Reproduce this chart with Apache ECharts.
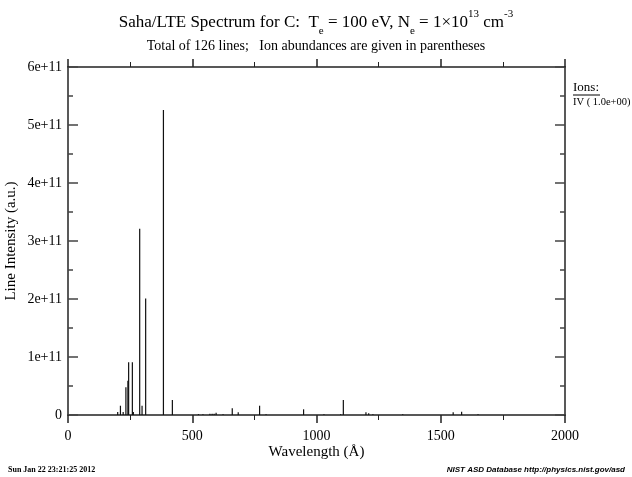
<!DOCTYPE html>
<html>
<head>
<meta charset="utf-8">
<script src="https://cdn.jsdelivr.net/npm/echarts@6/dist/echarts.min.js"></script>
<style>html,body{margin:0;padding:0;background:#fff}#c{width:632px;height:477px}</style>
</head>
<body>
<div id="c"></div>
<script>
// Wavelengths (Å) of the C IV lines
var wavelengths = [200, 211, 222, 233, 241, 244, 259, 263, 288.5, 298, 312.5, 384, 420,
  525, 543, 571, 580, 588, 596, 624, 661, 685, 771, 797, 948, 1030, 1097, 1108,
  1199, 1210, 1227, 1347, 1550, 1584, 1650];
// Line intensities (a.u.)
var intensities = [5e9, 1.6e10, 5e9, 4.8e10, 5.9e10, 9.1e10, 9.1e10, 5e9, 3.21e11, 1.6e10, 2.01e11, 5.26e11, 2.6e10,
  1.5e9, 1.5e9, 2e9, 2e9, 2e9, 4e9, 1.5e9, 1.15e10, 4.6e9, 1.6e10, 1.5e9, 9.8e9, 1.5e9, 1.5e9, 2.6e10,
  4.6e9, 3e9, 1.5e9, 1.5e9, 4.6e9, 5.5e9, 1.5e9];
var xTicks = [0, 500, 1000, 1500, 2000];
var yTickLabels = ['0', '1e+11', '2e+11', '3e+11', '4e+11', '5e+11', '6e+11'];

var serif = '"Liberation Serif", "DejaVu Serif", serif';
var data = wavelengths.map(function (w, i) { return [w, intensities[i]]; });

var chart = echarts.init(document.getElementById('c'), null, {renderer: 'canvas'});
var axisLine = {show: true, onZero: false, lineStyle: {color: '#222', width: 1.5}};
var xBase = {
  type: 'value', min: xTicks[0], max: xTicks[xTicks.length - 1], interval: 500,
  axisLine: axisLine, splitLine: {show: false},
  axisTick: {show: true, inside: false, length: 8, lineStyle: {color: '#222', width: 1.5}},
  minorTick: {show: true, splitNumber: 2, length: 5, lineStyle: {color: '#222', width: 1}},
  minorSplitLine: {show: false}
};
var yBase = {
  type: 'value', min: 0, max: 6e11, interval: 1e11,
  axisLine: axisLine, splitLine: {show: false},
  axisTick: {show: true, inside: true, length: 10, lineStyle: {color: '#444', width: 1.5}},
  minorTick: {show: true, splitNumber: 2, length: 5, lineStyle: {color: '#444', width: 1.5}},
  minorSplitLine: {show: false}
};
chart.setOption({
  animation: false,
  backgroundColor: '#fff',
  grid: {left: 68, right: 67, top: 67, bottom: 62, containLabel: false, outerBoundsMode: 'none'},
  xAxis: [
    Object.assign({}, xBase, {
      position: 'bottom',
      name: 'Wavelength (Å)', nameLocation: 'middle', nameGap: 30, nameMoveOverlap: false,
      nameTextStyle: {fontFamily: serif, fontSize: 15, color: '#000'},
      axisLabel: {show: true, margin: 14, fontFamily: serif, fontSize: 14, color: '#000',
        formatter: function (v) { return String(v); }}
    }),
    Object.assign({}, xBase, {position: 'top', axisLabel: {show: false}})
  ],
  yAxis: [
    Object.assign({}, yBase, {
      position: 'left',
      name: 'Line Intensity (a.u.)', nameLocation: 'middle', nameGap: 49, nameMoveOverlap: false,
      nameTextStyle: {fontFamily: serif, fontSize: 15, color: '#000'},
      axisLabel: {show: true, margin: 6, fontFamily: serif, fontSize: 14, color: '#000',
        formatter: function (v) { return yTickLabels[Math.round(v / 1e11)]; }}
    }),
    Object.assign({}, yBase, {position: 'right', axisLabel: {show: false}})
  ],
  series: [{
    type: 'bar', xAxisIndex: 0, yAxisIndex: 0,
    data: data, barWidth: 1.2, barGap: '-100%',
    itemStyle: {color: '#111'},
    silent: true
  }],
  graphic: [
    {type: 'text', left: 'center', top: 9, style: {
      text: '{a|Saha/LTE Spectrum for C:  T}{s|e}{a| = 100 eV, N}{s|e}{a| = 1×10}{p|13}{a| cm}{p|-3}',
      rich: {
        a: {fontFamily: serif, fontSize: 17, lineHeight: 28, verticalAlign: 'middle', fill: '#000'},
        s: {fontFamily: serif, fontSize: 11, lineHeight: 11, verticalAlign: 'bottom', fill: '#000'},
        p: {fontFamily: serif, fontSize: 11, lineHeight: 13, verticalAlign: 'top', fill: '#000'}
      }}},
    {type: 'text', left: 'center', top: 39, style: {
      text: 'Total of 126 lines;   Ion abundances are given in parentheses',
      font: '14px ' + serif, fill: '#000'}},
    {type: 'text', left: 573, top: 81, style: {text: 'Ions:', font: '13px ' + serif, fill: '#000'}},
    {type: 'line', shape: {x1: 573, y1: 95, x2: 600, y2: 95}, style: {stroke: '#000', lineWidth: 1}},
    {type: 'text', left: 573, top: 97, style: {text: 'IV ( 1.0e+00)', font: '10.5px ' + serif, fill: '#000'}},
    {type: 'text', left: 8, top: 466, style: {text: 'Sun Jan 22 23:21:25 2012', font: 'bold 8px ' + serif, fill: '#000'}},
    {type: 'text', right: 7, top: 466, style: {text: 'NIST ASD Database http://physics.nist.gov/asd', font: 'italic bold 8px "Liberation Sans", Arial, sans-serif', fill: '#000'}}
  ]
});
</script>
</body>
</html>
